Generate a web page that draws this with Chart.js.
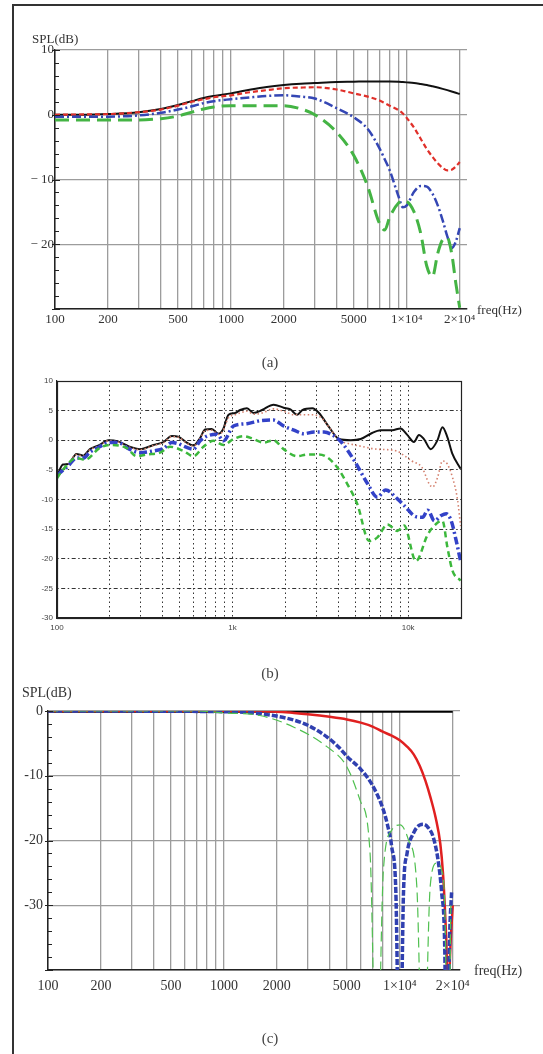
<!DOCTYPE html>
<html>
<head>
<meta charset="utf-8">
<script src="https://cdn.jsdelivr.net/npm/chart.js@4.4.0/dist/chart.umd.min.js"></script>
<style>
body{margin:0;background:#fff;width:543px;height:1054px;position:relative;overflow:hidden;font-family:"Liberation Serif",serif;}
.frame{position:absolute;left:12px;top:4px;width:560px;height:1100px;border-left:2px solid #333;border-top:2px solid #333;}
canvas{position:absolute;left:0;}
.t{position:absolute;color:#333;white-space:nowrap;line-height:1;}
.cap{position:absolute;font-size:15px;color:#444;transform:translate(-50%,-50%);line-height:1;}
</style>
</head>
<body>
<div class="frame"></div>
<canvas id="ca" width="543" height="340" style="top:0"></canvas>
<canvas id="cb" width="543" height="320" style="top:340px"></canvas>
<canvas id="cc" width="543" height="320" style="top:680px"></canvas>

<div class="t" style="left:32px;top:32px;font-size:13px">SPL(dB)</div>
<div class="t" style="left:477px;top:303px;font-size:13px">freq(Hz)</div>
<div class="cap" style="left:270px;top:362px">(a)</div>
<div class="cap" style="left:270px;top:673px">(b)</div>
<div class="t" style="left:22px;top:686px;font-size:14px">SPL(dB)</div>
<div class="t" style="left:474px;top:964px;font-size:14px">freq(Hz)</div>
<div class="cap" style="left:270px;top:1038px">(c)</div>

<script>
// ---- panel (a) ----
const freqA=[100,150,200,300,400,500,600,700,800,1000,1300,1600,2000,2500,3000,4000,5000,6000,7000,7500,8000,9000,9500,10000,11000,12000,13000,14000,15000,16000,17000,18000,19000,20000];
const blackA=[0,0,0.1,0.4,0.9,1.5,2.1,2.6,2.9,3.3,3.9,4.3,4.6,4.8,4.9,5.05,5.1,5.15,5.15,5.15,5.15,5.1,5.05,5.0,4.9,4.75,4.6,4.4,4.2,4.0,3.8,3.6,3.4,3.2];
const redA=[0,0.05,0.1,0.4,0.8,1.4,2.0,2.4,2.7,3.0,3.5,3.8,4.1,4.2,4.25,3.9,3.3,2.8,2.2,1.8,1.4,0.7,0.2,-0.5,-2.0,-3.7,-5.3,-6.5,-7.5,-8.2,-8.6,-8.5,-8.0,-7.3];
const blueA=[-0.3,-0.3,-0.3,-0.1,0.3,0.8,1.3,1.8,2.1,2.4,2.7,2.9,3.0,2.8,2.5,1.0,-0.4,-2.2,-5.2,-6.9,-8.6,-12.7,-14.3,-14.0,-11.9,-11.0,-11.1,-12.2,-14.0,-16.3,-18.8,-20.6,-19.6,-17.5];
const greenA=[-0.8,-0.8,-0.8,-0.8,-0.6,-0.2,0.4,0.9,1.2,1.4,1.4,1.4,1.4,0.9,0.0,-2.7,-6.3,-11.1,-16.8,-17.8,-15.8,-13.6,-13.3,-13.4,-15.0,-18.3,-23.4,-25.0,-21.4,-19.3,-19.0,-21.4,-26.0,-29.8];
const gridX=[100,200,300,400,500,600,700,800,900,1000,2000,3000,4000,5000,6000,7000,8000,9000,10000,20000];
const labelsX={100:"100",200:"200",500:"500",1000:"1000",2000:"2000",5000:"5000",10000:"1×10⁴",20000:"2×10⁴"};
const ticksYA=[-30,-20,-10,0,10];
const labelsYA={10:"10",0:"0","-10":"− 10","-20":"− 20"};

// ---- panel (b) ----
const blackBf=[100,108,116,129,141,154,175,196,223,255,297,354,404,451,491,548,598,654,697,761,832,882,948,1034,1105,1208,1317,1471,1713,1954,2135,2333,2493,2846,3107,3546,4043,4710,5367,6115,6968,8118,9048,9884,10793,11523,12306,13446,14690,15680,16740,17870,19890];
const blackB=[-6.1,-4.1,-4.0,-2.3,-2.6,-1.5,-0.8,0,-0.2,-1.0,-1.5,-0.8,-0.3,0.7,0.6,-0.4,-0.9,0.4,1.8,1.9,1.1,1.8,4.3,4.6,5.1,5.4,4.6,5.1,6.0,5.5,5.2,4.3,5.1,5.4,4.6,2.2,0.2,0,0.2,1.1,1.7,1.7,2.0,0.9,-0.3,0.9,0.2,-1.5,0,2.2,0.5,-2.3,-4.8];
const redBf=[100,116,129,141,154,175,196,223,255,297,354,404,451,491,548,598,654,697,761,832,882,948,1034,1105,1208,1317,1471,1713,2000,2234,2846,3200,3546,4043,4500,5367,6600,8600,9500,10500,12000,13200,13800,14700,15700,16700,17900,19100,19900];
const redB=[-6.0,-4.0,-2.4,-2.7,-1.6,-0.9,-0.1,-0.3,-1.1,-1.6,-0.9,-0.4,0.6,0.5,-0.5,-1.0,0.3,1.6,1.7,1.0,1.6,3.8,4.3,4.6,4.9,4.4,4.6,5.3,4.8,4.3,4.3,3.8,2.2,0,-0.5,-1.0,-1.5,-1.8,-2.6,-3.5,-4.6,-7.4,-7.9,-6.3,-3.5,-4.0,-6.3,-10,-14.5];
const blueBf=[100,116,129,141,154,175,196,223,255,297,354,404,451,491,548,598,654,715,814,888,1012,1208,1440,1713,1954,2234,2546,2908,3318,3700,4160,4926,5866,6684,7450,8686,9484,11072,12090,12930,14130,15435,16480,17600,18790,19890];
const blueB=[-5.9,-4.3,-3.0,-3.0,-2.0,-1.1,-0.4,-0.4,-1.4,-2.1,-1.8,-1.4,-0.4,-0.6,-1.2,-1.5,-0.1,0.7,1.0,-0.1,2.4,2.8,3.3,3.4,2.4,1.7,1.1,1.4,1.4,0.9,-0.3,-3.4,-7.3,-9.6,-8.4,-9.9,-11,-12.9,-13,-11.8,-13.6,-12.7,-12.4,-13.6,-17,-20.4];
const greenBf=[100,108,129,144,175,200,249,284,324,386,440,524,598,682,779,888,1012,1155,1317,1502,1713,1954,2333,2660,3107,3465,3950,4505,5137,5998,6684,7620,8686,9484,11072,12930,14740,15680,16740,17870,19890];
const greenB=[-6.4,-5.0,-3.0,-3.3,-1.3,-0.8,-1.3,-2.7,-2.4,-2.1,-1.1,-1.8,-2.7,-1.1,-0.1,-0.8,0.2,0.7,0.2,-0.4,0.0,-1.5,-2.7,-2.4,-2.4,-2.9,-4.6,-7.4,-10.8,-17,-16.4,-14.2,-15.3,-14.4,-20.4,-15.9,-13.9,-13.6,-18.1,-22,-23.7];
const labelsXB={100:"100",1000:"1k",10000:"10k"};

// ---- panel (c) ----
const blackCf=[100,20000];
const blackC=[0,0];
const redCf=[100,1000,2000,2500,3000,4000,5000,6000,7000,8000,9000,10000,11000,12000,13000,14000,15000,16000,17000,17600,18100,18500,18800,19300,20000];
const redC=[0,0,-0.1,-0.3,-0.5,-0.9,-1.3,-1.8,-2.4,-3.2,-3.8,-4.5,-5.5,-6.7,-8.5,-10.8,-13.5,-16.5,-20.5,-25,-31.2,-38,-50,-38,-30];
const blueCf=[100,1000,1600,2500,3000,3850,4500,5000,6000,7000,8000,8500,9000,9500,10000,10500,11000,12000,13000,13600,14500,15500,16500,17300,18000,18500,19200,19700];
const blueC=[0,-0.1,-0.4,-1.4,-2.2,-4.0,-5.6,-7.0,-9.0,-11.5,-15.0,-17.5,-21,-28,-60,-28,-22,-18.8,-17.6,-17.5,-18,-19.5,-23,-28,-36,-60,-35,-28];
const greenCf=[100,700,1000,1600,2500,3850,5000,5950,6780,7400,8070,9000,10040,11200,12500,13600,14900,16200,17300,18000,18900,19500];
const greenC=[0,0,-0.3,-0.7,-2.5,-5.5,-8.6,-13.8,-22,-60,-24.6,-18.4,-17.6,-19.9,-27.1,-60,-27,-23.5,-24.6,-29.6,-60,-30];
const ticksYC=[-40,-30,-20,-10,0];
const labelsYC={0:"0","-10":"-10","-20":"-20","-30":"-30"};

function pts(f,v){return f.map((x,i)=>({x:x,y:v[i]}));}

function line(f,v,color,width,dash,order){
return {data:pts(f,v),borderColor:color,borderWidth:width,borderDash:dash,pointRadius:0,
fill:false,cubicInterpolationMode:"monotone",order:order};
}

// small inward ticks on the y axis (Mathematica style)
const minorTicks={
id:"minorTicks",
afterDraw(chart,args,opts){
if(!opts.step)return;
const y=chart.scales.y,left=chart.chartArea.left,ctx=chart.ctx;
ctx.save();ctx.strokeStyle="#222";ctx.lineWidth=1;
for(let v=y.min;v<=y.max;v+=opts.step){
const py=Math.round(y.getPixelForValue(v))+0.5;
ctx.beginPath();ctx.moveTo(left-(v%10===0?3:0),py);ctx.lineTo(left+(v%10===0?5:4),py);ctx.stroke();
}
ctx.restore();
}
};

// closed box round the plot (MATLAB style)
const box={
id:"box",
afterDraw(chart,args,opts){
if(!opts.on)return;
const a=chart.chartArea,ctx=chart.ctx;
ctx.save();ctx.strokeStyle="#222";ctx.lineWidth=1.2;
ctx.strokeRect(Math.round(a.left)+0.5,Math.round(a.top)+0.5,Math.round(a.right-a.left),Math.round(a.bottom-a.top));
ctx.restore();
}
};

Chart.register(minorTicks,box);
Chart.defaults.font.family="'Liberation Serif', serif";
Chart.defaults.color="#333";

// the y scale box takes the left margin, the x scale box the bottom margin
function baseOptions(pad){
return {
responsive:false,animation:false,
layout:{padding:{left:0,bottom:0,top:pad.top,right:pad.right}},
plugins:{legend:{display:false},tooltip:{enabled:false}},
elements:{line:{borderCapStyle:"butt"}},
scales:{}
};
}

// ---- chart (a) ----
let optA=baseOptions({top:50,right:76});
optA.plugins.minorTicks={step:2};
optA.scales={
x:{type:"logarithmic",min:100,max:22000,
afterBuildTicks:s=>{s.ticks=gridX.map(v=>({value:v}));},
afterFit:s=>{s.height=31;},
ticks:{autoSkip:false,maxRotation:0,padding:3,font:{size:13},color:"#333",callback:v=>labelsX[v]||""},
grid:{color:"#9c9c9c",lineWidth:1.3,drawTicks:false},
border:{color:"#222",width:1.5}},
y:{type:"linear",min:-30,max:10,
afterBuildTicks:s=>{s.ticks=ticksYA.map(v=>({value:v}));},
afterFit:s=>{s.width=55;},
ticks:{padding:1,font:{size:13},color:"#333",callback:v=>labelsYA[v]||""},
grid:{color:"#9c9c9c",lineWidth:1.3,drawTicks:false},
border:{color:"#222",width:1.5}}
};
new Chart(document.getElementById("ca"),{type:"line",
data:{datasets:[
line(freqA,blackA,"#111",2,[],4),
line(freqA,redA,"#e0302a",2.2,[5,3],3),
line(freqA,blueA,"#3446b4",2.5,[9,3,2,3],2),
line(freqA,greenA,"#44b444",3,[14,7],1)
]},options:optA});

// ---- chart (b) ----
let optB=baseOptions({top:41,right:82});
optB.plugins.box={on:true};
optB.scales={
x:{type:"logarithmic",min:100,max:20000,
afterBuildTicks:s=>{s.ticks=gridX.map(v=>({value:v}));},
afterFit:s=>{s.height=42;},
ticks:{autoSkip:false,maxRotation:0,padding:5,font:{size:8,family:"'Liberation Sans', sans-serif"},color:"#444",callback:v=>labelsXB[v]||""},
grid:{color:c=>(c.tick&&(c.tick.value===100||c.tick.value===20000))?"rgba(0,0,0,0)":"#333",lineWidth:1,drawTicks:false},
border:{color:"#222",width:1.2,dash:[1.5,3]}},
y:{type:"linear",min:-30,max:10,
ticks:{stepSize:5,padding:4,font:{size:8,family:"'Liberation Sans', sans-serif"},color:"#444"},
afterFit:s=>{s.width=57;},
grid:{color:c=>(c.tick&&(c.tick.value===10||c.tick.value===-30))?"rgba(0,0,0,0)":"#333",lineWidth:1,drawTicks:false},
border:{color:"#222",width:1.2,dash:[1.5,2.5,4,2.5]}}
};
new Chart(document.getElementById("cb"),{type:"line",
data:{datasets:[
line(blackBf,blackB,"#111",2,[],4),
line(redBf,redB,"#d4806e",1.6,[1.5,2.5],3),
line(blueBf,blueB,"#3342c8",3.5,[8,3,2,3],2),
line(greenBf,greenB,"#3cb83c",2.5,[6,4],1)
]},options:optB});

// ---- chart (c) ----
let optC=baseOptions({top:31,right:83});
optC.plugins.minorTicks={step:2};
optC.scales={
x:{type:"logarithmic",min:100,max:22000,
afterBuildTicks:s=>{s.ticks=gridX.map(v=>({value:v}));},
afterFit:s=>{s.height=30;},
ticks:{autoSkip:false,maxRotation:0,padding:8,font:{size:14},color:"#333",callback:v=>labelsX[v]||""},
grid:{color:"#9c9c9c",lineWidth:1.3,drawTicks:false},
border:{color:"#222",width:1.5}},
y:{type:"linear",min:-40,max:0,
afterBuildTicks:s=>{s.ticks=ticksYC.map(v=>({value:v}));},
afterFit:s=>{s.width=48;},
ticks:{padding:5,font:{size:14},color:"#333",callback:v=>labelsYC[v]||""},
grid:{color:"#9c9c9c",lineWidth:1.3,drawTicks:false},
border:{color:"#222",width:1.5}}
};
new Chart(document.getElementById("cc"),{type:"line",
data:{datasets:[
line(blackCf,blackC,"#000",3.5,[],4),
line(redCf,redC,"#e02020",2.5,[],3),
line(blueCf,blueC,"#3040b0",3.5,[6,2],2),
line(greenCf,greenC,"#50c050",1.2,[10,5],1)
]},options:optC});
</script>
</body>
</html>
